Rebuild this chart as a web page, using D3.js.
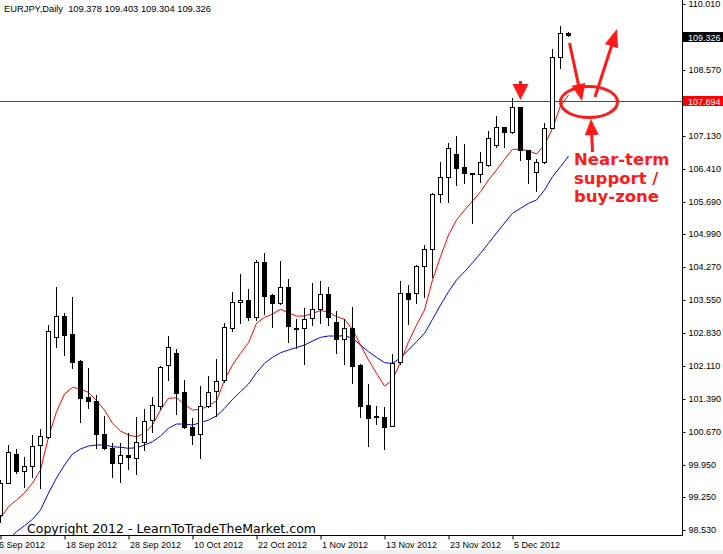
<!DOCTYPE html>
<html><head><meta charset="utf-8">
<script src="https://cdn.jsdelivr.net/npm/d3@7"></script>
<style>
html,body{margin:0;padding:0;background:#fff;}
svg{display:block;}
</style></head>
<body>
<svg id="chart" width="723" height="554"></svg>
<script>
// ---- data (EURJPY daily, 6 Sep 2012 .. 14 Dec 2012) ----
const symbolTitle = "EURJPY,Daily";
const lastQuote = ["109.378", "109.403", "109.304", "109.326"];
const opens = [98.857,99.562,100.188,99.828,99.927,100.385,100.570,102.742,103.200,102.807,
  102.225,101.439,101.352,100.618,100.313,99.999,100.167,100.095,100.457,100.930,
  101.236,102.131,102.386,101.535,100.784,100.625,101.236,101.563,101.803,102.932,
  103.517,103.543,103.185,104.372,103.659,103.477,103.827,102.949,102.932,103.150,
  103.346,103.680,103.063,102.692,102.932,102.131,101.258,101.011,100.996,100.800,
  102.196,103.696,103.696,104.291,104.656,105.863,106.227,106.736,106.446,106.321,
  106.299,106.496,106.932,107.319,107.210,107.755,106.823,106.350,106.555,107.297,
  108.846,109.378];
const highs = [99.621,100.385,100.298,100.123,100.603,100.734,103.004,103.833,103.266,103.615,
  102.240,102.065,101.476,101.018,100.428,100.428,100.647,101.003,101.171,101.439,
  102.109,102.764,102.480,101.803,100.974,101.672,101.891,102.262,103.041,103.731,
  104.117,103.790,104.422,104.569,103.681,104.401,104.001,103.128,103.368,103.914,
  103.964,103.840,103.309,103.128,103.403,102.153,101.716,101.243,101.221,102.364,
  103.964,103.877,104.313,104.750,105.885,106.555,106.969,107.129,106.954,106.332,
  106.786,107.244,107.565,107.325,107.952,107.762,106.834,106.627,107.406,109.021,
  109.530,109.403];
const lows = [98.704,99.545,99.774,99.468,99.687,99.446,100.538,102.524,102.349,102.065,
  100.893,101.192,100.319,100.308,99.687,99.584,99.861,99.752,100.276,100.675,
  101.171,101.803,101.061,100.756,100.407,100.101,101.214,101.018,101.766,102.879,
  103.054,103.113,103.113,103.244,102.954,103.462,102.639,102.495,102.146,103.004,
  103.041,103.004,102.399,102.146,101.745,100.989,100.370,100.837,100.291,100.789,
  102.153,103.026,103.477,103.622,104.058,105.695,105.695,106.059,106.097,105.237,
  106.131,106.474,106.895,106.895,107.194,106.605,106.097,105.935,106.550,107.293,
  108.606,109.304];
const closes = [99.556,100.239,99.828,99.927,100.363,100.592,102.873,103.200,102.786,102.203,
  101.417,101.352,100.618,100.313,99.999,100.160,100.117,100.457,100.915,101.258,
  102.094,102.517,101.526,100.771,100.603,101.236,101.548,101.788,102.954,103.512,
  103.539,103.185,104.372,103.643,103.477,103.827,102.989,102.941,103.128,103.346,
  103.680,103.172,102.692,102.932,102.116,101.243,100.968,100.996,100.784,102.168,
  103.696,103.565,104.291,104.656,105.863,106.227,106.860,106.424,106.315,106.308,
  106.555,107.079,107.319,107.210,107.755,106.823,106.620,106.555,107.297,108.846,
  109.370,109.326];
// red (fast) and blue (slow) moving averages as drawn on the chart
const redMA = [98.792,99.038,99.185,99.337,99.556,99.839,100.559,101.112,101.498,101.644,
  101.607,101.535,101.352,101.149,100.858,100.690,100.603,100.566,100.640,100.821,
  101.149,101.404,101.417,101.273,101.149,101.164,101.236,101.352,101.803,102.131,
  102.386,102.618,103.041,103.172,103.244,103.347,103.272,103.200,103.200,103.259,
  103.316,103.294,103.185,103.128,102.910,102.567,102.240,101.950,101.673,101.803,
  102.196,102.639,103.004,103.331,103.986,104.495,104.968,105.296,105.514,105.710,
  105.913,106.169,106.387,106.620,106.839,106.839,106.808,106.736,106.932,107.297,
  107.784,108.024];
const blueMA = [98.137,98.311,98.493,98.624,98.763,98.966,99.337,99.665,99.948,100.188,
  100.298,100.363,100.385,100.385,100.348,100.335,100.313,100.326,100.385,100.457,
  100.581,100.749,100.843,100.843,100.821,100.872,100.931,101.018,101.186,101.382,
  101.548,101.716,101.963,102.168,102.299,102.399,102.458,102.513,102.567,102.655,
  102.735,102.764,102.764,102.770,102.714,102.567,102.421,102.299,102.181,102.168,
  102.290,102.458,102.639,102.823,103.128,103.440,103.731,103.986,104.167,104.364,
  104.569,104.787,105.012,105.230,105.442,105.551,105.660,105.732,105.950,106.241,
  106.459,106.692];
const priceTicks = [110.010,108.570,107.130,106.410,105.690,104.990,104.270,103.550,102.830,102.110,101.390,100.670,99.950,99.250,98.530];
const priceTickLabels = ["110.010","108.570","107.130","106.410","105.690","104.990","104.270","103.550","102.830","102.110","101.390","100.670","99.950","99.250","98.530"];
const dateTickIndex = [0,8,16,24,32,40,48,56,64];
const dateTickLabels = ["6 Sep 2012","18 Sep 2012","28 Sep 2012","10 Oct 2012","22 Oct 2012","1 Nov 2012","13 Nov 2012","23 Nov 2012","5 Dec 2012"];
const supportLevel = 107.894;
const supportLabel = "107.894";
const bidLabel = "109.326";
const noteLines = ["Near-term","support /","buy-zone"];
const copyright = "Copyright 2012 - LearnToTradeTheMarket.com";

// ---- layout ----
const FONT = "'Liberation Sans', Arial, sans-serif";
const svg = d3.select("#chart");
const plotW = 682, plotH = 535;
const x = d3.scaleLinear().domain([0, 85.25]).range([0, plotW]);
const y = d3.scaleLinear().domain([98.530, 110.010]).range([530, 4]);

svg.append("rect").attr("x",0).attr("y",550).attr("width",723).attr("height",4).attr("fill","#f0f0f0");

svg.append("defs").append("clipPath").attr("id","plotClip")
  .append("rect").attr("x",0).attr("y",0).attr("width",plotW).attr("height",plotH);
const plot = svg.append("g").attr("clip-path","url(#plotClip)");

// support line
plot.append("line").attr("x1",0).attr("x2",plotW)
  .attr("y1",Math.round(y(supportLevel))+0.5).attr("y2",Math.round(y(supportLevel))+0.5)
  .attr("stroke","#ff0000").attr("stroke-width",1);

// moving averages
const idx = d3.range(opens.length);
const lineGen = arr => d3.line().x(i => x(i)+0.5).y(i => y(arr[i]))(idx);
plot.append("path").attr("d", lineGen(blueMA)).attr("fill","none").attr("stroke","#0000ff").attr("stroke-width",1);
plot.append("path").attr("d", lineGen(redMA)).attr("fill","none").attr("stroke","#ff0000").attr("stroke-width",1);

// candles
const cg = plot.append("g");
idx.forEach(i => {
  const cx = Math.round(x(i));
  const o = opens[i], c = closes[i];
  const yH = Math.round(y(highs[i])), yL = Math.round(y(lows[i]));
  const yO = Math.round(y(o)), yC = Math.round(y(c));
  cg.append("line").attr("x1",cx+0.5).attr("x2",cx+0.5).attr("y1",yH).attr("y2",yL+1)
    .attr("stroke","#000").attr("stroke-width",1);
  const top = Math.min(yO,yC), bot = Math.max(yO,yC);
  const bull = c >= o;
  cg.append("rect").attr("x",cx-1.5).attr("y",top+0.5).attr("width",4).attr("height",Math.max(bot-top,1))
    .attr("fill", bull ? "#fff" : "#000").attr("stroke","#000").attr("stroke-width",1);
});

// axes
svg.append("line").attr("x1",plotW+0.5).attr("x2",plotW+0.5).attr("y1",0).attr("y2",plotH+1).attr("stroke","#000");
svg.append("line").attr("x1",0).attr("x2",plotW+1).attr("y1",plotH+0.5).attr("y2",plotH+0.5).attr("stroke","#000");

const yAxis = d3.axisRight(y).tickValues(priceTicks).tickSize(3).tickPadding(3)
  .tickFormat((d,k) => priceTickLabels[k]);
const ya = svg.append("g").attr("transform",`translate(${plotW+0.5},0)`).call(yAxis);
ya.select(".domain").remove();
ya.selectAll("text").style("font-family",FONT).style("font-size","9px").attr("fill","#000");

const xAxis = d3.axisBottom(x).tickValues(dateTickIndex).tickSize(4).tickFormat((d,k)=>dateTickLabels[k]);
const xa = svg.append("g").attr("transform",`translate(0.5,${plotH+0.5})`).call(xAxis);
xa.select(".domain").remove();
xa.selectAll("text").style("font-family",FONT).style("font-size","9px")
  .attr("fill","#000").attr("text-anchor","start").attr("dx",(d,k)=> k===0 ? "-2" : "1")
  .attr("y",6).attr("dy","0.71em");

// price boxes on axis
function priceBox(val, label, fill){
  const cy = Math.round(y(val));
  svg.append("rect").attr("x",plotW+1).attr("y",cy-5).attr("width",723-plotW-1).attr("height",10).attr("fill",fill);
  svg.append("text").attr("x",plotW+6).attr("y",cy+3.5).style("font-family",FONT).style("font-size","9px").attr("fill","#fff").text(label);
}
priceBox(109.326-0.04, bidLabel, "#000");
priceBox(supportLevel, supportLabel, "#ff0000");

// header
svg.append("text").attr("x",4).attr("y",11.5).style("font-family",FONT).style("font-size","9.3px").attr("fill","#000")
  .attr("xml:space","preserve").attr("textLength",207).attr("lengthAdjust","spacingAndGlyphs")
  .text(symbolTitle + "  " + lastQuote.join(" "));

// copyright
svg.append("text").attr("x",27).attr("y",533).style("font-family","'DejaVu Sans', sans-serif").style("font-size","13px").attr("fill","#000")
  .attr("textLength",289).attr("lengthAdjust","spacingAndGlyphs").text(copyright);

// annotations
const red = "#ff1a1a";
const ann = svg.append("g");
function arrow(x1,y1,x2,y2,head,hw){
  const dx = x2-x1, dy = y2-y1, L = Math.hypot(dx,dy), ux = dx/L, uy = dy/L;
  const bx = x2-ux*head, by = y2-uy*head;
  ann.append("line").attr("x1",x1).attr("y1",y1).attr("x2",bx+ux*2).attr("y2",by+uy*2)
    .attr("stroke",red).attr("stroke-width",3);
  ann.append("path").attr("d",`M${x2},${y2}L${bx-uy*hw},${by+ux*hw}L${bx+uy*hw},${by-ux*hw}Z`).attr("fill",red);
}
const topArrowX = Math.round(x(65))+0.5;
arrow(topArrowX, 81, topArrowX, 100, 16, 8);
arrow(569.5, 43, 582, 101, 17, 7);
arrow(595, 97, 617, 29, 18, 7);
arrow(592.5, 152, 591, 119, 16, 7);
ann.append("ellipse").attr("cx",589).attr("cy",102).attr("rx",28.5).attr("ry",15.5)
  .attr("fill","none").attr("stroke",red).attr("stroke-width",3);
noteLines.forEach((t,k)=>{
  ann.append("text").attr("x",574).attr("y",165+k*18.5).style("font-family","'DejaVu Sans', sans-serif")
    .style("font-weight","bold").style("font-size","16.5px").attr("fill",red).text(t);
});
</script>
</body></html>
